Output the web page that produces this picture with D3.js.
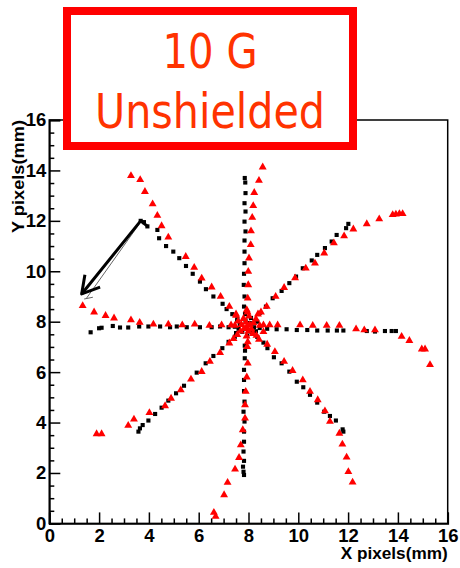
<!DOCTYPE html>
<html><head><meta charset="utf-8">
<script src="https://cdn.jsdelivr.net/npm/d3@7"></script>
<style>html,body{margin:0;padding:0;background:#fff;}svg{display:block;}</style>
</head><body>
<svg id="chart" width="460" height="568"></svg>
<script>
// ---- data ----
const titleLines = ["10 G", "Unshielded"];
const xLabel = "X pixels(mm)";
const yLabel = "Y pixels(mm)";
const majorTicks = [0, 2, 4, 6, 8, 10, 12, 14, 16];
const minorTicks = d3.range(0, 16.01, 0.5).filter(v => v % 2 !== 0);

// black squares (reference / shielded positions)
const blackPoints = [
  // upper-left diagonal
  [3.67,12.0],[3.8,11.95],[3.94,11.78],[4.34,11.64],[4.41,11.31],[4.69,11.0],[4.98,10.78],[5.22,10.52],[5.49,10.21],[5.76,9.9],[6.05,9.59],[6.29,9.29],[6.59,9.0],[6.96,8.71],[7.12,8.5],[7.35,8.3],[7.55,8.1],
  // left horizontal
  [1.66,7.58],[2.0,7.74],[2.1,7.76],[2.55,7.83],[2.84,7.77],[3.17,7.77],[3.61,7.81],[3.98,7.81],[4.45,7.81],[4.85,7.78],[5.12,7.81],[5.52,7.78],[6.05,7.78],[6.52,7.78],[6.86,7.81],[7.2,7.78],[7.45,7.8],
  // upper vertical
  [7.85,13.7],[7.87,13.52],[7.88,13.1],[7.84,12.7],[7.88,12.37],[7.84,11.97],[7.88,11.58],[7.84,11.22],[7.84,10.78],[7.84,10.32],[7.82,9.9],[7.81,9.46],[7.84,9.0],[7.82,8.6],[7.86,8.3],
  // upper-right diagonal
  [12.01,11.88],[11.92,11.71],[11.54,11.44],[11.34,11.18],[11.07,10.92],[10.76,10.65],[10.54,10.43],[10.18,10.12],[9.91,9.79],[9.64,9.53],[9.33,9.22],[8.97,8.93],[8.7,8.6],[8.45,8.35],
  // right horizontal
  [13.92,7.63],[13.75,7.63],[13.48,7.63],[13.08,7.61],[12.75,7.63],[11.81,7.65],[11.55,7.65],[11.18,7.65],[10.76,7.65],[10.36,7.67],[9.94,7.67],[9.53,7.7],[9.13,7.7],[8.75,7.72],[8.45,7.75],
  // lower-right diagonal
  [8.35,7.4],[8.6,7.17],[8.76,6.95],[9.02,6.59],[9.33,6.35],[9.64,6.02],[9.94,5.62],[10.2,5.4],[10.47,5.1],[10.76,4.79],[11.04,4.43],[11.27,4.26],[11.51,4.08],[11.78,3.73],[11.81,3.64],
  // lower vertical
  [7.85,7.05],[7.86,6.85],[7.85,6.55],[7.82,6.09],[7.82,5.69],[7.82,5.25],[7.84,4.83],[7.8,4.43],[7.84,4.04],[7.82,3.64],[7.82,3.24],[7.8,2.85],[7.82,2.48],[7.78,2.25],[7.8,2.05],[7.82,1.92],
  // lower-left diagonal
  [3.58,3.64],[3.64,3.77],[3.75,3.9],[3.98,4.08],[4.25,4.34],[4.51,4.59],[4.78,4.87],[5.09,5.16],[5.41,5.46],[5.92,5.98],[6.28,6.35],[6.59,6.64],[6.95,6.95],[7.2,7.2],[7.45,7.4],
  // centre
  [7.9,7.75],[7.75,7.6],[8.05,7.95],[7.65,7.9],[8.12,7.6],[7.88,8.05],[8.22,7.78],[7.6,7.72],[7.95,7.45],[7.5,7.55],[8.3,7.62],[7.55,8.05],[8.35,8.0],[8.1,8.15]
];

// red triangles (10 G unshielded)
const redPoints = [
  // upper-left diagonal
  [3.28,13.79],[3.65,13.63],[3.84,13.16],[4.15,12.67],[4.34,12.21],[4.51,11.8],[4.78,11.35],[5.48,10.58],[5.82,10.15],[6.12,9.72],[6.52,9.37],[6.88,9.0],[7.23,8.6],[7.5,8.3],
  // left horizontal
  [1.34,8.63],[1.8,8.38],[2.26,8.24],[2.6,8.14],[3.28,8.07],[3.63,7.97],[4.18,7.9],[4.78,7.9],[5.34,7.87],[5.84,7.9],[6.43,7.85],[6.92,7.87],[7.3,7.87],
  // upper vertical
  [8.57,14.13],[8.42,13.6],[8.23,13.12],[8.19,12.6],[8.15,12.13],[8.1,11.6],[8.09,11.05],[8.02,10.52],[7.99,9.99],[7.99,9.46],[7.97,8.93],[7.93,8.47],
  // upper-right diagonal
  [14.19,12.28],[14.06,12.28],[13.92,12.26],[13.79,12.24],[13.25,12.07],[12.75,11.88],[12.21,11.67],[11.84,11.4],[11.43,11.12],[11.04,10.72],[10.67,10.32],[10.3,10.12],[9.87,9.73],[9.43,9.35],[9.09,9.0],[8.73,8.6],[8.5,8.38],
  // right horizontal
  [8.6,7.87],[8.85,7.87],[9.17,7.87],[10.07,7.87],[10.58,7.85],[11.14,7.85],[11.65,7.85],[12.32,7.71],[12.65,7.67],[13.08,7.67],[14.15,7.41],[14.46,7.25],[14.96,6.91],[15.09,6.91],[15.29,6.29],
  // lower-right diagonal
  [8.75,7.1],[9.06,6.81],[9.43,6.42],[9.77,6.06],[10.18,5.69],[10.47,5.23],[10.78,4.9],[11.07,4.46],[11.27,4.04],[11.65,3.57],[11.77,3.14],[11.94,2.62],[12.01,2.05],[12.18,1.63],
  // lower vertical
  [7.95,7.01],[7.97,6.35],[7.93,5.8],[7.89,5.23],[7.86,4.7],[7.86,4.17],[7.77,3.71],[7.69,3.11],[7.62,2.61],[7.46,2.15],[7.16,1.62],[7.02,1.13],[6.61,0.43],[6.68,0.27],
  // lower-left diagonal
  [1.9,3.55],[2.1,3.55],[3.17,3.88],[3.4,4.13],[4.02,4.39],[4.65,4.66],[4.89,4.96],[5.28,5.29],[5.69,5.72],[6.12,6.02],[6.45,6.42],[6.86,6.77],[7.23,7.15],
  // centre
  [7.93,7.8],[8.05,7.88],[7.82,7.72],[8.0,7.62],[7.9,7.98],[8.12,7.7],[7.72,7.88],[8.2,7.95],[7.68,7.62],[8.18,7.52],[7.8,8.12],[8.02,8.22],[7.58,8.02],[8.3,8.1],[7.55,7.48],[8.32,7.45],[7.92,7.42],[7.96,8.38],[7.45,7.85],[8.45,7.85],[7.5,8.25],[8.38,8.3],[7.4,7.32],[8.42,7.3],[7.97,7.2],[8.6,7.6]
];

// hand-drawn arrow annotation (data coordinates)
const arrowLine = [[3.95,11.78],[3.67,12.0],[1.3,9.1]];
const arrowHead = [[1.43,9.86],[1.3,9.1],[2.04,9.37]];
const arrowShadow = [[3.58,11.83],[1.5,8.94]];
const arrowShadowHead = [[1.4,8.9],[1.75,8.97]];

// ---- drawing ----
const svg = d3.select("#chart");
const L = 49.3, R = 447.7, T = 120, B = 523.4;
const x = d3.scaleLinear().domain([0, 16]).range([L, R]);
const y = d3.scaleLinear().domain([0, 16]).range([B, T]);

// frame
svg.append("rect").attr("x", L).attr("y", T).attr("width", R - L).attr("height", B - T)
  .attr("fill", "none").attr("stroke", "#000").attr("stroke-width", 1.5);

const fontTick = "'Liberation Sans', Arial, Helvetica, sans-serif";

// x axis
const gx = svg.append("g").attr("transform", `translate(0,${B})`);
gx.call(d3.axisBottom(x).tickValues(majorTicks).tickSize(-11).tickPadding(5).tickFormat(d3.format("d")));
const gxm = svg.append("g").attr("transform", `translate(0,${B})`);
gxm.call(d3.axisBottom(x).tickValues(minorTicks).tickSize(-5).tickFormat(""));
gxm.select(".domain").remove();

// y axis
const gy = svg.append("g").attr("transform", `translate(${L},0)`);
gy.call(d3.axisLeft(y).tickValues(majorTicks).tickSize(-11).tickPadding(3).tickFormat(d3.format("d")));
const gym = svg.append("g").attr("transform", `translate(${L},0)`);
gym.call(d3.axisLeft(y).tickValues(minorTicks).tickSize(-5).tickFormat(""));
gym.select(".domain").remove();

svg.selectAll(".domain").attr("stroke", "#000").attr("stroke-width", 1.8);
svg.selectAll(".tick line").attr("stroke", "#000").attr("stroke-width", 1.5);
svg.selectAll(".tick text").attr("font-family", fontTick).attr("font-weight", "bold")
  .attr("font-size", 18.5).attr("fill", "#000");

// axis titles
svg.append("text").attr("x", R).attr("y", 559).attr("text-anchor", "end")
  .attr("font-family", fontTick).attr("font-weight", "bold").attr("font-size", 17)
  .attr("textLength", 107).attr("lengthAdjust", "spacingAndGlyphs").text(xLabel);
svg.append("text").attr("transform", `translate(24,${T}) rotate(-90)`).attr("text-anchor", "end")
  .attr("font-family", fontTick).attr("font-weight", "bold").attr("font-size", 17)
  .attr("textLength", 113).attr("lengthAdjust", "spacingAndGlyphs").text(yLabel);

// markers
const sq = d3.symbol().type(d3.symbolSquare).size(17);
const tri = d3.symbol().type(d3.symbolTriangle).size(27);
svg.append("g").selectAll("path").data(blackPoints).join("path")
  .attr("d", sq).attr("transform", d => `translate(${x(d[0])},${y(d[1])})`).attr("fill", "#000");
svg.append("g").selectAll("path").data(redPoints).join("path")
  .attr("d", tri).attr("transform", d => `translate(${x(d[0])},${y(d[1])})`).attr("fill", "#ff0000");

// arrow
const line = d3.line().x(d => x(d[0])).y(d => y(d[1]));
svg.append("path").attr("d", line(arrowShadow)).attr("fill", "none").attr("stroke", "#666").attr("stroke-width", 1);
svg.append("path").attr("d", line(arrowShadowHead)).attr("fill", "none").attr("stroke", "#666").attr("stroke-width", 1);
svg.append("path").attr("d", line(arrowLine)).attr("fill", "none").attr("stroke", "#000").attr("stroke-width", 3).attr("stroke-linejoin", "round");
svg.append("path").attr("d", line(arrowHead)).attr("fill", "none").attr("stroke", "#000").attr("stroke-width", 3).attr("stroke-linejoin", "round");

// title box
svg.append("rect").attr("x", 67).attr("y", 11).attr("width", 286).attr("height", 135)
  .attr("fill", "#fff").attr("stroke", "#ff0000").attr("stroke-width", 8);
const tl = [{t: titleLines[0], y: 68, w: 95}, {t: titleLines[1], y: 128, w: 230}];
svg.append("g").selectAll("text").data(tl).join("text")
  .attr("x", 210).attr("y", d => d.y).attr("text-anchor", "middle")
  .attr("font-family", "'DejaVu Sans', Verdana, sans-serif").attr("font-size", 48)
  .attr("textLength", d => d.w).attr("lengthAdjust", "spacingAndGlyphs")
  .attr("fill", "#ff3300").text(d => d.t);
</script>
</body></html>
